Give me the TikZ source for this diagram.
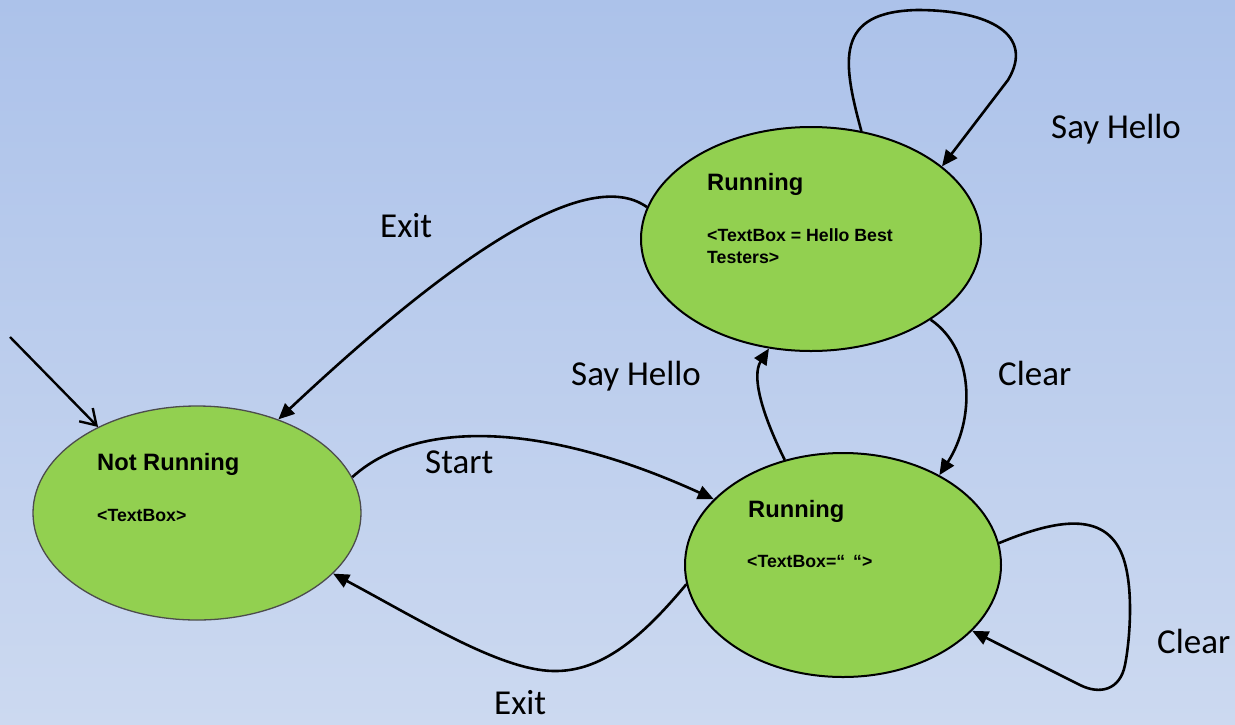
\documentclass[tikz,border=0pt]{standalone}
\usepackage{fontspec}
\newfontfamily\statefont{Liberation Sans}
\newfontfamily\edgefont{Carlito}
\usetikzlibrary{shapes.geometric,arrows.meta}

\definecolor{bgtop}{RGB}{172,194,234}
\definecolor{bgbottom}{RGB}{204,217,240}
\definecolor{stategreen}{RGB}{146,208,80}

\tikzset{
  state/.style={ellipse, fill=stategreen, draw=black, line width=2pt, inner sep=0pt},
  statetitle/.style={anchor=base west, inner sep=0pt,
    font=\statefont\bfseries\fontsize{23.7}{28}\selectfont},
  statetext/.style={anchor=base west, inner sep=0pt,
    font=\statefont\bfseries\fontsize{17.7}{21.6}\selectfont},
  edgetext/.style={anchor=base west, inner sep=0pt,
    font=\edgefont\fontsize{35}{42}\selectfont},
  edge/.style={line width=2.6pt, -{Triangle[length=16pt,width=14pt]}},
  entryedge/.style={line width=2.4pt, -{Straight Barb[length=15pt,width=19pt]}}
}

\begin{document}
\begin{tikzpicture}[x=1pt,y=-1pt]
  % background
  \shade[top color=bgtop, bottom color=bgbottom] (0,0) rectangle (1235,724);
  \useasboundingbox (0,0) rectangle (1235,724);

  % states
  \node[state, minimum width=328pt, minimum height=214pt,
        draw=black!70, line width=1.3pt] (idle) at (197,513) {};
  \node[state, minimum width=340pt, minimum height=224pt] (hello) at (811,239) {};
  \node[state, minimum width=316pt, minimum height=224pt] (blank) at (843,565) {};

  % state texts
  \node[statetitle] (idletitle) at (97,470) {Not Running};
  \node[statetext]  (idlebox)   at (97,521.5) {<TextBox>};
  \node[statetitle] (hellotitle) at (707,190) {Running};
  \node[statetext]  (hellobox)   at (707,241.7)
    {\vtop{\hbox{<TextBox = Hello Best}\hbox{Testers>}}};
  \node[statetitle] (blanktitle) at (748,517) {Running};
  \node[statetext]  (blankbox)   at (747,567) {<TextBox=“\hspace{8pt}“>};

  % initial transition
  \coordinate (entry) at (10,337);
  \draw[entryedge] (entry) -- (idle.139.5);

  % transitions
  \draw[edge] (hello.169) .. controls (595,170) and (480,230) .. (idle.49);
  \draw[edge] (idle.13) .. controls (415,420) and (540,420) .. (blank.153);
  \draw[edge] (blank.-173) .. controls (640,640) and (600,672) .. (553,671)
              .. controls (500,670) and (420,620) .. (idle.-24);
  \draw[edge] (blank.119) .. controls (760,410) and (752,375) .. (hello.-111);
  \draw[edge] (hello.-34) .. controls (975,350) and (975,420) .. (blank.43.5);
  \draw[edge] (hello.65) .. controls (842,60) and (835,12) .. (917,10)
              .. controls (990,10) and (1035,35) .. (1008,80) -- (hello.29);
  \draw[edge] (blank.8) .. controls (1050,522) and (1100,510) .. (1120,550)
              .. controls (1135,580) and (1130,640) .. (1125,665)
              .. controls (1120,690) and (1100,695) .. (1080,685) -- (blank.-27);

  % transition labels
  \node[edgetext] (lsayhello1) at (1051,138) {Say Hello};
  \node[edgetext] (lexit1)     at (380,237)  {Exit};
  \node[edgetext] (lsayhello2) at (571,385)  {Say Hello};
  \node[edgetext] (lclear1)    at (998,385)  {Clear};
  \node[edgetext] (lstart)     at (425,473)  {Start};
  \node[edgetext] (lclear2)    at (1157,653) {Clear};
  \node[edgetext] (lexit2)     at (494,714)  {Exit};
\end{tikzpicture}
\end{document}
